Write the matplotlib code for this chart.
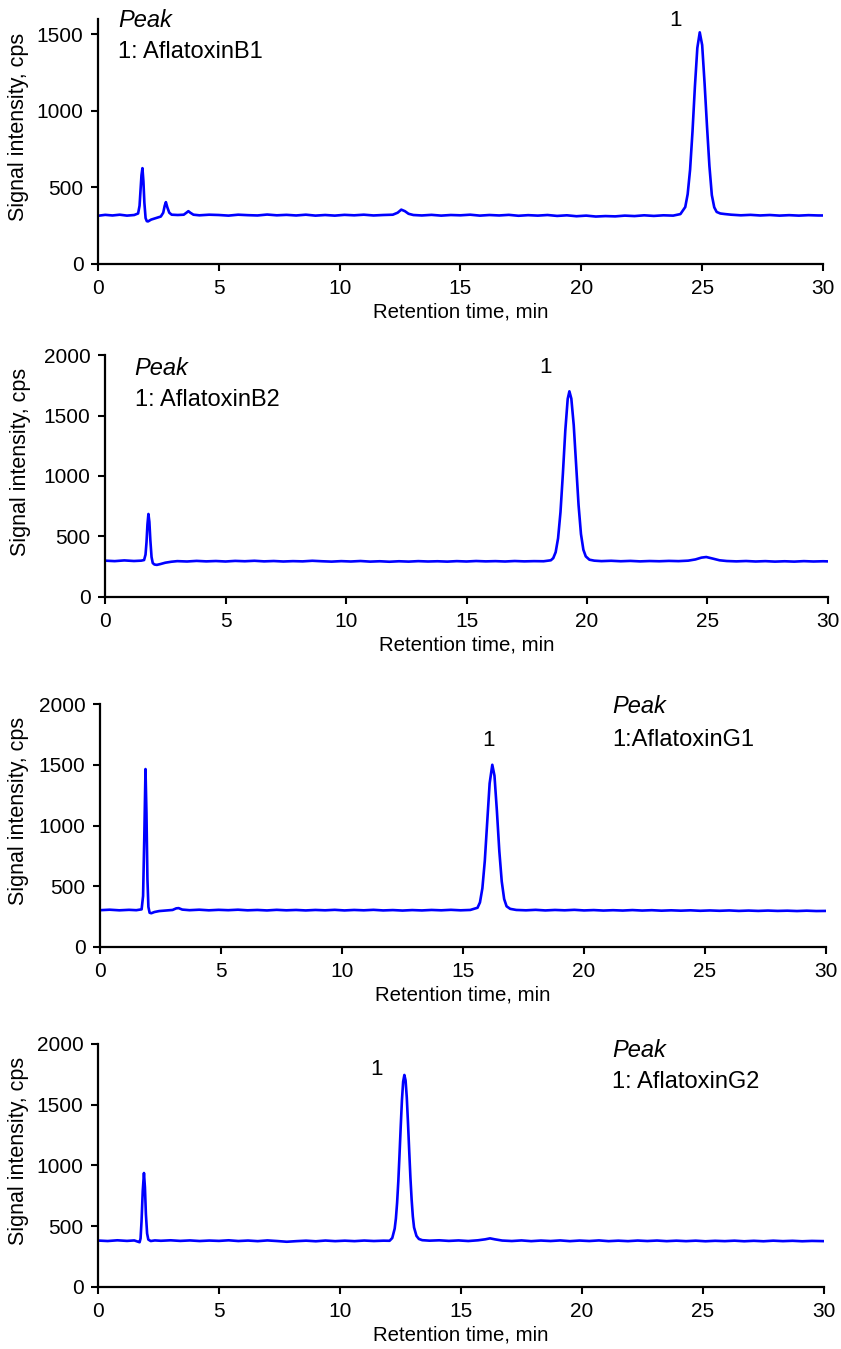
import numpy as np
import matplotlib.pyplot as plt

plt.rcParams['font.family'] = ['Liberation Sans', 'DejaVu Sans']

# chromatogram traces: (retention time min, signal cps)
b1_trace = [(0.0, 315), (0.3, 321), (0.6, 317), (0.9, 322), (1.2, 316), (1.5, 320), (1.66, 330), (1.72, 380),
            (1.76, 480), (1.8, 580), (1.84, 626), (1.88, 540), (1.92, 400), (1.97, 300), (2.02, 280), (2.07, 278),
            (2.2, 290), (2.4, 300), (2.6, 310), (2.7, 335), (2.76, 380), (2.81, 404), (2.87, 370), (2.95, 335),
            (3.05, 322), (3.3, 320), (3.55, 322), (3.66, 335), (3.74, 345), (3.82, 335), (3.95, 322), (4.2, 318),
            (4.6, 322), (5.0, 320), (5.4, 316), (5.8, 322), (6.2, 319), (6.6, 317), (7.0, 323), (7.4, 318),
            (7.8, 321), (8.2, 317), (8.6, 322), (9.0, 316), (9.4, 320), (9.8, 316), (10.2, 321), (10.6, 318),
            (11.0, 322), (11.4, 317), (11.8, 320), (12.2, 322), (12.4, 335), (12.55, 355), (12.7, 345), (12.85, 328),
            (13.05, 320), (13.4, 317), (13.8, 321), (14.2, 316), (14.6, 320), (15.0, 318), (15.4, 322), (15.8, 316),
            (16.2, 320), (16.6, 317), (17.0, 321), (17.4, 315), (17.8, 319), (18.2, 316), (18.6, 320), (19.0, 314),
            (19.4, 318), (19.8, 312), (20.2, 316), (20.6, 310), (21.0, 313), (21.4, 311), (21.8, 316), (22.2, 313),
            (22.6, 318), (23.0, 314), (23.4, 318), (23.8, 316), (24.1, 326), (24.3, 372), (24.4, 456), (24.5, 616),
            (24.6, 865), (24.7, 1160), (24.8, 1411), (24.9, 1513), (25.0, 1430), (25.1, 1180), (25.2, 900),
            (25.3, 640), (25.4, 450), (25.5, 370), (25.6, 340), (25.75, 330), (25.95, 326), (26.2, 322), (26.6, 318),
            (27.0, 321), (27.4, 317), (27.8, 320), (28.2, 316), (28.6, 319), (29.0, 316), (29.4, 319), (29.8, 317),
            (30.0, 317)]

b2_trace = [(0.0, 300), (0.4, 296), (0.8, 302), (1.2, 297), (1.5, 300), (1.62, 305), (1.68, 350), (1.72, 450),
            (1.76, 600), (1.8, 686), (1.84, 620), (1.88, 470), (1.93, 330), (1.98, 280), (2.05, 268), (2.15, 265),
            (2.3, 272), (2.5, 283), (2.75, 291), (3.0, 296), (3.4, 293), (3.8, 298), (4.2, 294), (4.6, 297),
            (5.0, 293), (5.4, 298), (5.8, 295), (6.2, 299), (6.6, 294), (7.0, 297), (7.4, 293), (7.8, 296),
            (8.2, 294), (8.6, 299), (9.0, 295), (9.4, 292), (9.8, 296), (10.2, 293), (10.6, 297), (11.0, 292),
            (11.4, 295), (11.8, 291), (12.2, 295), (12.6, 292), (13.0, 296), (13.4, 293), (13.8, 295), (14.2, 292),
            (14.6, 296), (15.0, 293), (15.4, 297), (15.8, 294), (16.2, 296), (16.6, 293), (17.0, 297), (17.4, 294),
            (17.8, 296), (18.2, 295), (18.5, 303), (18.6, 321), (18.7, 370), (18.8, 485), (18.9, 701), (19.0, 1020),
            (19.1, 1376), (19.2, 1638), (19.27, 1700), (19.35, 1640), (19.45, 1420), (19.55, 1090), (19.65, 760),
            (19.75, 520), (19.85, 390), (19.95, 335), (20.1, 308), (20.3, 300), (20.6, 296), (21.0, 299), (21.4, 295),
            (21.8, 298), (22.2, 294), (22.6, 297), (23.0, 295), (23.4, 298), (23.8, 296), (24.2, 300), (24.5, 310),
            (24.75, 325), (24.95, 330), (25.2, 318), (25.5, 303), (25.8, 297), (26.2, 294), (26.6, 297), (27.0, 293),
            (27.4, 296), (27.8, 292), (28.2, 295), (28.6, 292), (29.0, 296), (29.4, 293), (29.8, 295), (30.0, 294)]

g1_trace = [(0.0, 303), (0.4, 307), (0.8, 302), (1.2, 306), (1.5, 303), (1.72, 310), (1.78, 420), (1.83, 900),
            (1.88, 1465), (1.92, 1100), (1.96, 560), (2.0, 330), (2.05, 282), (2.12, 278), (2.25, 288), (2.45, 296),
            (2.7, 300), (3.0, 305), (3.15, 318), (3.25, 320), (3.4, 308), (3.7, 303), (4.1, 307), (4.5, 302),
            (4.9, 306), (5.3, 303), (5.7, 307), (6.1, 302), (6.5, 305), (6.9, 301), (7.3, 306), (7.7, 302),
            (8.1, 305), (8.5, 301), (8.9, 305), (9.3, 302), (9.7, 306), (10.1, 301), (10.5, 305), (10.9, 302),
            (11.3, 306), (11.7, 301), (12.1, 304), (12.5, 300), (12.9, 304), (13.3, 301), (13.7, 305), (14.1, 302),
            (14.5, 306), (14.9, 302), (15.3, 305), (15.6, 323), (15.7, 367), (15.8, 483), (15.9, 708), (16.0, 1029),
            (16.1, 1347), (16.21, 1500), (16.3, 1410), (16.4, 1120), (16.5, 790), (16.6, 540), (16.7, 395),
            (16.8, 335), (16.95, 314), (17.2, 305), (17.6, 302), (18.0, 306), (18.4, 301), (18.8, 305), (19.2, 302),
            (19.6, 306), (20.0, 301), (20.4, 304), (20.8, 300), (21.2, 303), (21.6, 300), (22.0, 304), (22.4, 300),
            (22.8, 303), (23.2, 299), (23.6, 302), (24.0, 299), (24.4, 302), (24.8, 298), (25.2, 301), (25.6, 298),
            (26.0, 301), (26.4, 297), (26.8, 300), (27.2, 297), (27.6, 300), (28.0, 297), (28.4, 299), (28.8, 296),
            (29.2, 299), (29.6, 296), (30.0, 297)]

g2_trace = [(0.0, 382), (0.4, 378), (0.8, 384), (1.2, 379), (1.5, 383), (1.66, 372), (1.72, 368), (1.76, 400),
            (1.8, 540), (1.85, 790), (1.9, 938), (1.94, 820), (1.98, 600), (2.03, 440), (2.08, 390), (2.18, 378),
            (2.35, 383), (2.6, 380), (3.0, 384), (3.4, 379), (3.8, 383), (4.2, 378), (4.6, 382), (5.0, 379),
            (5.4, 384), (5.8, 378), (6.2, 382), (6.6, 377), (7.0, 383), (7.4, 378), (7.8, 372), (8.2, 377),
            (8.6, 381), (9.0, 376), (9.4, 382), (9.8, 377), (10.2, 381), (10.6, 377), (11.0, 382), (11.4, 378),
            (11.8, 381), (12.05, 380), (12.16, 403), (12.26, 480), (12.31, 563), (12.36, 693), (12.41, 870),
            (12.46, 1090), (12.51, 1322), (12.56, 1539), (12.61, 1690), (12.66, 1745), (12.71, 1700), (12.76, 1560),
            (12.81, 1350), (12.86, 1120), (12.91, 900), (12.96, 720), (13.01, 580), (13.06, 490), (13.16, 420),
            (13.26, 395), (13.4, 385), (13.7, 381), (14.1, 384), (14.5, 379), (14.9, 383), (15.3, 378), (15.7, 384),
            (16.0, 392), (16.2, 400), (16.4, 392), (16.7, 382), (17.1, 378), (17.5, 383), (17.9, 377), (18.3, 382),
            (18.7, 378), (19.1, 383), (19.5, 377), (19.9, 382), (20.3, 378), (20.7, 383), (21.1, 377), (21.5, 381),
            (21.9, 377), (22.3, 382), (22.7, 378), (23.1, 382), (23.5, 377), (23.9, 381), (24.3, 377), (24.7, 381),
            (25.1, 376), (25.5, 380), (25.9, 377), (26.3, 381), (26.7, 376), (27.1, 380), (27.5, 376), (27.9, 381),
            (28.3, 377), (28.7, 380), (29.1, 376), (29.5, 379), (30.0, 377)]

traces = [b1_trace, b2_trace, g1_trace, g2_trace]
compounds = ["1: AflatoxinB1", "1: AflatoxinB2", "1:AflatoxinG1", "1: AflatoxinG2"]
y_max = [1600, 2000, 2000, 2000]
# where the "1" peak mark sits (min, cps)
peak_marks = [(23.9, 1590), (18.26, 1900), (16.07, 1704), (11.49, 1786)]

# axes boxes in figure fractions [left, bottom, width, height]
boxes = [[0.1165, 0.8043, 0.8621, 0.1816],
         [0.1249, 0.5575, 0.8596, 0.1793],
         [0.1189, 0.2980, 0.8633, 0.1801],
         [0.1165, 0.0460, 0.8633, 0.1801]]
# legend text anchor (axes fraction): x, y of "Peak", y of compound line
legend_pos = [(0.028, 0.996, 0.865), (0.041, 0.946, 0.814), (0.705, 0.988, 0.852), (0.708, 0.975, 0.844)]
ylabel_x = [-0.095, -0.102, -0.098, -0.095]

fig = plt.figure(figsize=(8.41, 13.49), dpi=100)

for i in range(4):
    ax = fig.add_axes(boxes[i])
    data = np.array(traces[i], dtype=float)
    ax.plot(data[:, 0], data[:, 1], color='#0000FF', lw=1.9, solid_joinstyle='round')

    ax.set_xlim(0, 30)
    ax.set_ylim(0, y_max[i])
    ax.set_xticks(np.arange(0, 31, 5))
    ax.set_yticks(np.arange(0, y_max[i] + 1, 500))
    ax.spines['top'].set_visible(False)
    ax.spines['right'].set_visible(False)
    ax.spines['left'].set_linewidth(1.6)
    ax.spines['bottom'].set_linewidth(1.6)
    ax.tick_params(direction='out', length=5, width=1.5, labelsize=15, colors='black')
    ax.tick_params(axis='x', pad=6)
    ax.tick_params(axis='y', pad=5.5)
    ax.set_xlabel("Retention time, min", fontsize=14.7)
    ax.set_ylabel("Signal intensity, cps", fontsize=15.5)
    ax.xaxis.set_label_coords(0.5, -0.158)
    ax.yaxis.set_label_coords(ylabel_x[i], 0.56)

    lx, ly1, ly2 = legend_pos[i]
    ax.text(lx, ly1, "Peak", transform=ax.transAxes, fontsize=17, style='italic', va='center', ha='left')
    ax.text(lx, ly2, compounds[i], transform=ax.transAxes, fontsize=17, va='center', ha='left')
    ax.text(peak_marks[i][0], peak_marks[i][1], "1", fontsize=16, va='center', ha='center')

fig.savefig("out.png", dpi=100)
